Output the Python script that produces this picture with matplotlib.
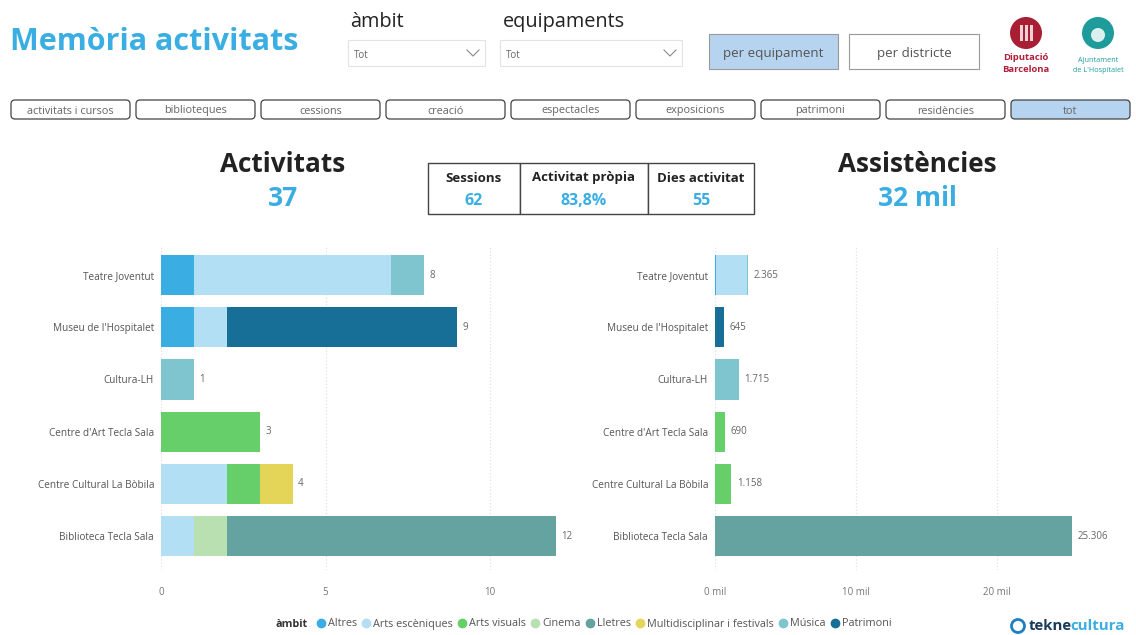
import matplotlib
matplotlib.use('Agg')
import matplotlib.pyplot as plt
from matplotlib.patches import Rectangle, FancyBboxPatch, Circle
from matplotlib.lines import Line2D
import numpy as np

plt.rcParams['font.family'] = ['Open Sans', 'DejaVu Sans']

# data
equipaments = ['Teatre Joventut', "Museu de l'Hospitalet", 'Cultura-LH',
               "Centre d'Art Tecla Sala", 'Centre Cultural La Bòbila', 'Biblioteca Tecla Sala']
ambits = ['Altres', 'Arts escèniques', 'Arts visuals', 'Cinema', 'Lletres',
          'Multidisciplinar i festivals', 'Música', 'Patrimoni']
colors = ['#3AAEE3', '#B2DFF3', '#66CF69', '#B9E0B1', '#64A39F', '#E4D458', '#7FC5CF', '#176E97']

# activitats per àmbit (one value per equipament)
act_altres = [1, 1, 0, 0, 0, 0]
act_escen = [6, 1, 0, 0, 2, 1]
act_visuals = [0, 0, 0, 3, 1, 0]
act_cinema = [0, 0, 0, 0, 0, 1]
act_lletres = [0, 0, 0, 0, 0, 10]
act_multi = [0, 0, 0, 0, 1, 0]
act_musica = [1, 0, 1, 0, 0, 0]
act_patrimoni = [0, 7, 0, 0, 0, 0]
activitats = [act_altres, act_escen, act_visuals, act_cinema, act_lletres,
              act_multi, act_musica, act_patrimoni]

# assistències per àmbit
ass_altres = [60, 0, 0, 0, 0, 0]
ass_escen = [2205, 0, 0, 0, 0, 0]
ass_visuals = [0, 0, 0, 690, 1158, 0]
ass_cinema = [0, 0, 0, 0, 0, 0]
ass_lletres = [0, 0, 0, 0, 0, 25306]
ass_multi = [0, 0, 0, 0, 0, 0]
ass_musica = [100, 0, 1715, 0, 0, 0]
ass_patrimoni = [0, 645, 0, 0, 0, 0]
assistencies = [ass_altres, ass_escen, ass_visuals, ass_cinema, ass_lletres,
                ass_multi, ass_musica, ass_patrimoni]

tabs = ['activitats i cursos', 'biblioteques', 'cessions', 'creació', 'espectacles',
        'exposicions', 'patrimoni', 'residències', 'tot']
kpi_labels = ['Sessions', 'Activitat pròpia', 'Dies activitat']
kpi_values = ['62', '83,8%', '55']

BLUE = '#3AAEE3'
W, H = 1136, 635
fig = plt.figure(figsize=(W / 100, H / 100), dpi=100)
fig.patch.set_facecolor('white')

# background axes in pixel coordinates for the decorations
bg = fig.add_axes([0, 0, 1, 1])
bg.set_xlim(0, W)
bg.set_ylim(H, 0)
bg.axis('off')

bg.text(10, 42, 'Memòria activitats', color=BLUE, fontsize=22, fontweight='bold', va='center')

# slicers
bg.text(350, 22, 'àmbit', fontsize=14.3, color='#222', va='center')
bg.text(503, 22, 'equipaments', fontsize=14.3, color='#222', va='center')
for x0, x1 in [(348, 485), (500, 682)]:
    bg.add_patch(Rectangle((x0, 40), x1 - x0, 26, fc='white', ec='#e3e3e3', lw=0.8))
    bg.text(x0 + 6, 54, 'Tot', fontsize=7, color='#666', va='center_baseline')
    cx = x1 - 12
    bg.plot([cx - 6, cx, cx + 6], [50, 56, 50], color='#888', lw=0.8)

# view buttons
bg.add_patch(Rectangle((709, 34), 129, 35, fc='#B6D4EF', ec='#999', lw=0.8))
bg.text(773, 52, 'per equipament', fontsize=9.6, color='#555', ha='center', va='center_baseline')
bg.add_patch(Rectangle((849, 34), 130, 35, fc='white', ec='#999', lw=0.8))
bg.text(914, 52, 'per districte', fontsize=9.6, color='#555', ha='center', va='center_baseline')

# logos
bg.add_patch(Circle((1026, 33), 16, fc='#A81F34', ec='none'))
for dx in (-5, 0, 5):
    bg.add_patch(Rectangle((1026 + dx - 1.5, 25), 3, 16, fc='white', ec='none', alpha=0.8))
bg.text(1026, 58, 'Diputació', fontsize=6.8, color='#B01E3A', fontweight='bold', ha='center', va='center')
bg.text(1026, 70, 'Barcelona', fontsize=6.8, color='#B01E3A', fontweight='bold', ha='center', va='center')
bg.add_patch(Circle((1098, 33), 16, fc='#1E9C9C', ec='none'))
bg.add_patch(Circle((1098, 35), 7, fc='white', ec='none', alpha=0.85))
bg.text(1098, 60, 'Ajuntament', fontsize=5.2, color='#1E9C9C', ha='center', va='center')
bg.text(1098, 71, "de L'Hospitalet", fontsize=5.2, color='#1E9C9C', ha='center', va='center')

# tab buttons
for i, t in enumerate(tabs):
    x0 = 11 + i * 125
    fc = '#B6D4EF' if t == 'tot' else 'white'
    bg.add_patch(FancyBboxPatch((x0, 100), 119, 19, boxstyle='round,pad=0,rounding_size=4',
                                fc=fc, ec='#444', lw=0.9))
    bg.text(x0 + 59.5, 109.5, t, fontsize=7.8, color='#666', ha='center', va='center_baseline')

# headline numbers
bg.text(283, 164, 'Activitats', fontsize=18.8, fontweight='bold', color='#222', ha='center', va='center')
bg.text(283, 198, '37', fontsize=19, fontweight='bold', color=BLUE, ha='center', va='center')
bg.text(917, 164, 'Assistències', fontsize=18.8, fontweight='bold', color='#222', ha='center', va='center')
bg.text(917, 198, '32 mil', fontsize=19, fontweight='bold', color=BLUE, ha='center', va='center')

# kpi box
edges = [428, 520, 648, 754]
for i in range(3):
    x0, x1 = edges[i], edges[i + 1]
    bg.add_patch(Rectangle((x0, 163), x1 - x0, 51, fc='white', ec='#444', lw=1.0))
    bg.text((x0 + x1) / 2, 176.5, kpi_labels[i], fontsize=9.5, fontweight='bold', color='#222',
            ha='center', va='center_baseline')
    bg.text((x0 + x1) / 2, 199, kpi_values[i], fontsize=11.5, fontweight='bold', color=BLUE,
            ha='center', va='center_baseline')

# legend
bg.text(276, 623, 'àmbit', fontsize=7.8, fontweight='bold', color='#333', va='center_baseline')
handles = [Line2D([], [], marker='o', ls='none', color=c, markersize=6) for c in colors]
fig.legend(handles, ambits, loc='center left', bbox_to_anchor=(310 / W, 1 - 624 / H),
           ncol=8, frameon=False, fontsize=7.8, handletextpad=0.15, columnspacing=0.35,
           handlelength=1.0, borderpad=0, labelcolor='#555')

# teknecultura logo
bg.add_patch(Circle((1018, 626), 6.5, fc='none', ec='#1F7FC4', lw=2))
bg.text(1029, 626, 'tekne', fontsize=10.8, fontweight='bold', color='#1B3A5C', va='center')
bg.text(1070, 626, 'cultura', fontsize=10.8, fontweight='bold', color='#3AAEE3', va='center')


def fig_rect(x0, x1, y0, y1):
    return [x0 / W, 1 - y1 / H, (x1 - x0) / W, (y1 - y0) / H]


def stacked(ax, data, xmax, ticks, ticklabels, fmt):
    y = np.arange(len(equipaments))
    left = np.zeros(len(equipaments))
    for vals, c in zip(data, colors):
        vals = np.array(vals, dtype=float)
        ax.barh(y, vals, left=left, height=0.77, color=c, lw=0, zorder=3)
        left += vals
    for yi, tot in zip(y, left):
        ax.text(tot + xmax * 0.013, yi, fmt(tot), fontsize=7, color='#666', va='center')
    ax.set_xlim(0, xmax)
    ax.set_ylim(5.65, -0.575)
    ax.set_yticks(y)
    ax.set_yticklabels(equipaments, fontsize=7.2, color='#555')
    ax.set_xticks(ticks)
    ax.set_xticklabels(ticklabels, fontsize=7, color='#777')
    ax.tick_params(length=0, pad=5)
    ax.tick_params(axis='x', pad=12)
    for s in ax.spines.values():
        s.set_visible(False)
    ax.grid(axis='x', color='#e2e2e2', ls=':', lw=0.9, zorder=0)
    ax.patch.set_alpha(0)


ax1 = fig.add_axes(fig_rect(161, 579, 245, 570))
stacked(ax1, activitats, 12.7, [0, 5, 10], ['0', '5', '10'], lambda v: f'{int(v)}')

ax2 = fig.add_axes(fig_rect(715, 1130, 245, 570))
stacked(ax2, assistencies, 29430, [0, 10000, 20000], ['0 mil', '10 mil', '20 mil'],
        lambda v: f'{int(v):,}'.replace(',', '.'))

fig.savefig('out.png', dpi=100, facecolor='white')
